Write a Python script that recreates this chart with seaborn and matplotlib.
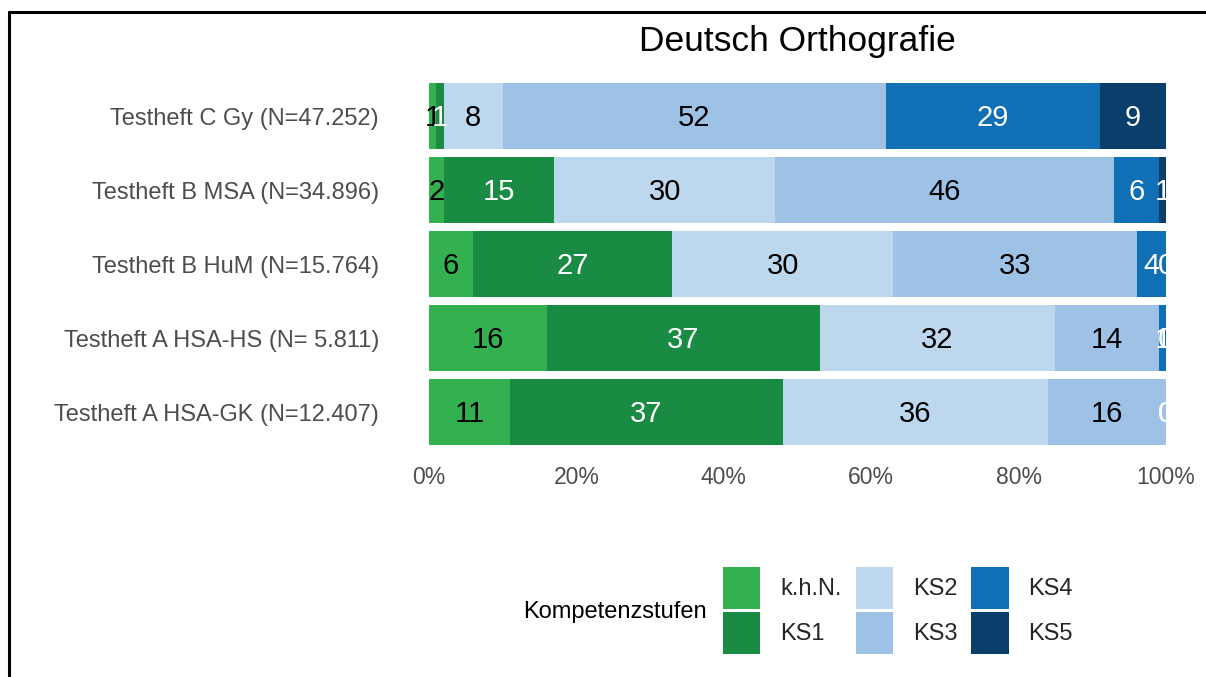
import numpy as np
import pandas as pd
import matplotlib
matplotlib.use("Agg")
import matplotlib.pyplot as plt
import seaborn as sns
from matplotlib.patches import Patch
from matplotlib.lines import Line2D

# ---------------- DATA ---------------- #

tests = ["Testheft C Gy (N=47.252)",
         "Testheft B MSA (N=34.896)",
         "Testheft B HuM (N=15.764)",
         "Testheft A HSA-HS (N= 5.811)",
         "Testheft A HSA-GK (N=12.407)"]

levels = ["k.h.N.", "KS1", "KS2", "KS3", "KS4", "KS5"]

khn = [1, 2, 6, 16, 11]
ks1 = [1, 15, 27, 37, 37]
ks2 = [8, 30, 30, 32, 36]
ks3 = [52, 46, 33, 14, 16]
ks4 = [29, 6, 4, 1, 0]
ks5 = [9, 1, 0, 0, 0]

xticks = [0, 20, 40, 60, 80, 100]
xtick_labels = ["0%", "20%", "40%", "60%", "80%", "100%"]

colors = ["#33B04F", "#1A8B43", "#BCD7EE", "#9DC2E5", "#1170B5", "#0A3F6C"]
text_colors = ["black", "white", "black", "black", "white", "white"]

# ---------------- BUILD TABLE ---------------- #

wide = pd.DataFrame({"Testheft": tests, "k.h.N.": khn, "KS1": ks1,
                     "KS2": ks2, "KS3": ks3, "KS4": ks4, "KS5": ks5})
long = wide.melt(id_vars="Testheft", var_name="Stufe", value_name="Anteil")
long["cum"] = long.groupby("Testheft", sort=False)["Anteil"].cumsum()
long["mid"] = long["cum"] - long["Anteil"] / 2

# ---------------- PLOT ---------------- #

sns.set_theme(style="white")
plt.rcParams["font.family"] = ["Liberation Sans", "DejaVu Sans"]

fig = plt.figure(figsize=(12.06, 6.77), dpi=100)
ax = fig.add_axes([429 / 1206, 1 - 449 / 677, 737 / 1206, 370 / 677])

# stacked bars: draw cumulative totals from the last level to the first
for lvl, col in reversed(list(zip(levels, colors))):
    sub = long[long["Stufe"] == lvl]
    sns.barplot(data=sub, x="cum", y="Testheft", order=tests, color=col,
                saturation=1, width=0.88, errorbar=None, orient="h",
                linewidth=0, ax=ax)

for lvl, tc in zip(levels, text_colors):
    sub = long[long["Stufe"] == lvl]
    for _, r in sub.iterrows():
        ax.annotate(str(int(r["Anteil"])), (r["mid"], tests.index(r["Testheft"])),
                    xytext=(0, -1.5), textcoords="offset points",
                    ha="center", va="center", color=tc, fontsize=21)

ax.set_xlim(0, 100)
ax.set_ylim(4.5, -0.5)
ax.set_xticks(xticks)
ax.set_xticklabels(xtick_labels)
ax.set_xlabel("")
ax.set_ylabel("")
ax.tick_params(axis="y", length=0, pad=36, labelsize=17, labelcolor="#4D4D4D")
ax.tick_params(axis="x", length=0, pad=12, labelsize=16.5, labelcolor="#4D4D4D")
sns.despine(ax=ax, left=True, bottom=True)

fig.text(797 / 1206, 1 - 41 / 677, "Deutsch Orthografie", ha="center",
         va="center", fontsize=25.5, color="black")

# ---------------- LEGEND ---------------- #

handles = [Patch(facecolor=c, edgecolor="none", label=l) for l, c in zip(levels, colors)]
fig.legend(handles=handles, ncol=3, loc="upper left",
           bbox_to_anchor=(723 / 1206, 1 - 567 / 677), frameon=False,
           fontsize=17, handlelength=1.57, handleheight=2.36,
           labelspacing=0.13, handletextpad=0.85, columnspacing=0.6,
           borderpad=0, borderaxespad=0)
fig.text(615 / 1206, 1 - 612 / 677, "Kompetenzstufen", ha="center",
         va="center", fontsize=17, color="black")

# frame line (left and top)
fig.add_artist(Line2D([8.5 / 1206, 8.5 / 1206], [0, 1 - 12 / 677],
                      color="black", linewidth=2.2, transform=fig.transFigure))
fig.add_artist(Line2D([8.5 / 1206, 1], [1 - 12 / 677, 1 - 12 / 677],
                      color="black", linewidth=2.2, transform=fig.transFigure))

fig.savefig("out.png", dpi=100)
